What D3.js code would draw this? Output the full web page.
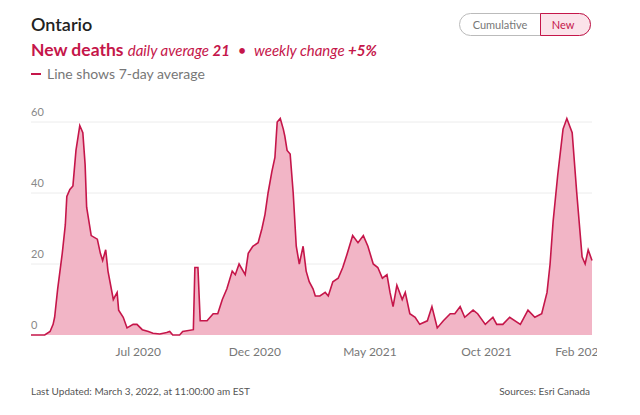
<!DOCTYPE html>
<html>
<head>
<meta charset="utf-8">
<script src="https://cdn.jsdelivr.net/npm/d3@7"></script>
<style>
  body { margin: 0; background: #fff; font-family: Lato, "Open Sans", sans-serif; }
</style>
</head>
<body>
<svg id="chart" width="640" height="415"></svg>
<script>
"use strict";

// Days since 2020-02-12 and 7-day average deaths
var days = [0,18,25,29,31,35,41,45,47,51,55,59,64,68,71,73,79,87,91,94,98,101,108,113,115,121,126,134,139,146,154,160,169,178,182,186,195,199,213,215,219,222,231,239,245,251,257,264,268,273,281,285,291,298,303,307,311,316,320,323,327,331,333,336,340,344,348,352,357,361,365,370,373,379,386,390,396,403,409,415,422,429,436,442,449,455,461,467,471,475,480,487,491,497,504,510,520,526,533,541,550,556,563,569,580,586,596,606,611,619,628,642,652,661,670,677,681,685,691,698,703,710,716,723,727,731,736];
var deaths = [0,0,1,3,5,13,23,31,39,41,42,52,59,57,48,36,28,27,23,21,24,18,10,12,7,5,2,3,3,1.5,1,0.5,0.3,0.7,1,0,0,1,1.5,19,19,4,4,6,6,10,13,18,17,20,17,23,25,26,30,34,40,46,50,60,61,58,56,52,51,40,25,20,25,18,15,13,11,11,12,11,15,16,19,23,28,26,28,25,20,19,16,17,12,8,14,10,12,6,5,3,4,8,2,4,6,6,8,5,7,6,3,5,3,3,5,3,7,5,6,12,20,32,45,58,61,57,40,22,20,24,21];
var yTicks = [0, 20, 40, 60];
var xTickDates = ["2020-07-01", "2020-12-01", "2021-05-01", "2021-10-01", "2022-02-01"];
var xTickLabels = ["Jul 2020", "Dec 2020", "May 2021", "Oct 2021", "Feb 2022"];

var start = new Date(2020, 1, 12);
var data = days.map(function (d, i) {
  return { date: d3.timeDay.offset(start, d), value: deaths[i] };
});

var red = "#c5164a";
var svg = d3.select("#chart");

var x = d3.scaleTime()
  .domain([start, d3.timeDay.offset(start, 736)])
  .range([31, 592]);
var y = d3.scaleLinear().domain([0, 60]).range([335, 122]);

// header
svg.append("text").attr("x", 31).attr("y", 31)
  .attr("font-size", 18).attr("font-weight", 600).attr("fill", "#222")
  .text("Ontario");

var sub = svg.append("text").attr("x", 31).attr("y", 56).attr("fill", red);
sub.append("tspan").attr("font-size", 17.5).attr("font-weight", 700).text("New deaths ");
sub.append("tspan").attr("font-size", 15).attr("font-style", "italic").text("daily average ");
sub.append("tspan").attr("font-size", 15).attr("font-style", "italic").attr("font-weight", 700).text("21");
sub.append("tspan").attr("font-size", 15).attr("xml:space", "preserve").text("  •  ");
sub.append("tspan").attr("font-size", 15).attr("font-style", "italic").text("weekly change ");
sub.append("tspan").attr("font-size", 15).attr("font-style", "italic").attr("font-weight", 700).text("+5%");

svg.append("line").attr("x1", 31).attr("x2", 41).attr("y1", 74).attr("y2", 74)
  .attr("stroke", red).attr("stroke-width", 2);
svg.append("text").attr("x", 47).attr("y", 79)
  .attr("font-size", 14).attr("fill", "#777")
  .text("Line shows 7-day average");

// toggle
svg.append("rect").attr("x", 459.5).attr("y", 13.5).attr("width", 131).attr("height", 22)
  .attr("rx", 11).attr("fill", "#fff").attr("stroke", "#bbb");
svg.append("path")
  .attr("d", "M540.5,13.5 H579.5 A11,11 0 0 1 579.5,35.5 H540.5 Z")
  .attr("fill", "#fbe3ea").attr("stroke", red);
svg.append("text").attr("x", 500).attr("y", 29).attr("text-anchor", "middle")
  .attr("font-size", 11).attr("fill", "#777").text("Cumulative");
svg.append("text").attr("x", 563).attr("y", 29).attr("text-anchor", "middle")
  .attr("font-size", 11).attr("fill", red).text("New");

// grid
svg.append("g").selectAll("line").data(yTicks.slice(1)).enter().append("line")
  .attr("x1", 31).attr("x2", 592)
  .attr("y1", function (d) { return y(d); }).attr("y2", function (d) { return y(d); })
  .attr("stroke", "#ececec");
svg.append("g").selectAll("text").data(yTicks).enter().append("text")
  .attr("x", 31).attr("y", function (d) { return y(d) - 6; })
  .attr("font-size", 11).attr("fill", "#888")
  .text(function (d) { return d; });

// area + line
var area = d3.area().x(function (d) { return x(d.date); })
  .y0(y(0)).y1(function (d) { return y(d.value); });
var line = d3.line().x(function (d) { return x(d.date); })
  .y(function (d) { return y(d.value); });
svg.append("path").datum(data).attr("d", area).attr("fill", "#f2b5c6");
svg.append("path").datum(data).attr("d", line)
  .attr("fill", "none").attr("stroke", red).attr("stroke-width", 1.6);

// x axis labels, clipped at the right edge like the original
var gx = svg.append("g").attr("transform", "translate(0," + y(0) + ")");
gx.append("clipPath").attr("id", "xclip").append("rect")
  .attr("x", 0).attr("y", 0).attr("width", 597).attr("height", 40);
var xAxis = d3.axisBottom(x)
  .tickValues(xTickDates.map(function (s) { return new Date(s + "T00:00"); }))
  .tickFormat(function (d, i) { return xTickLabels[i]; })
  .tickSize(0).tickPadding(12);
var inner = gx.append("g").attr("clip-path", "url(#xclip)").call(xAxis);
inner.select(".domain").remove();
inner.selectAll("text").attr("font-size", 12).attr("fill", "#777")
  .attr("font-family", "Lato, 'Open Sans', sans-serif");

// footer
svg.append("text").attr("x", 31).attr("y", 395)
  .attr("font-size", 10).attr("fill", "#555")
  .text("Last Updated: March 3, 2022, at 11:00:00 am EST");
svg.append("text").attr("x", 590).attr("y", 395).attr("text-anchor", "end")
  .attr("font-size", 10).attr("fill", "#555")
  .text("Sources: Esri Canada");
</script>
</body>
</html>
